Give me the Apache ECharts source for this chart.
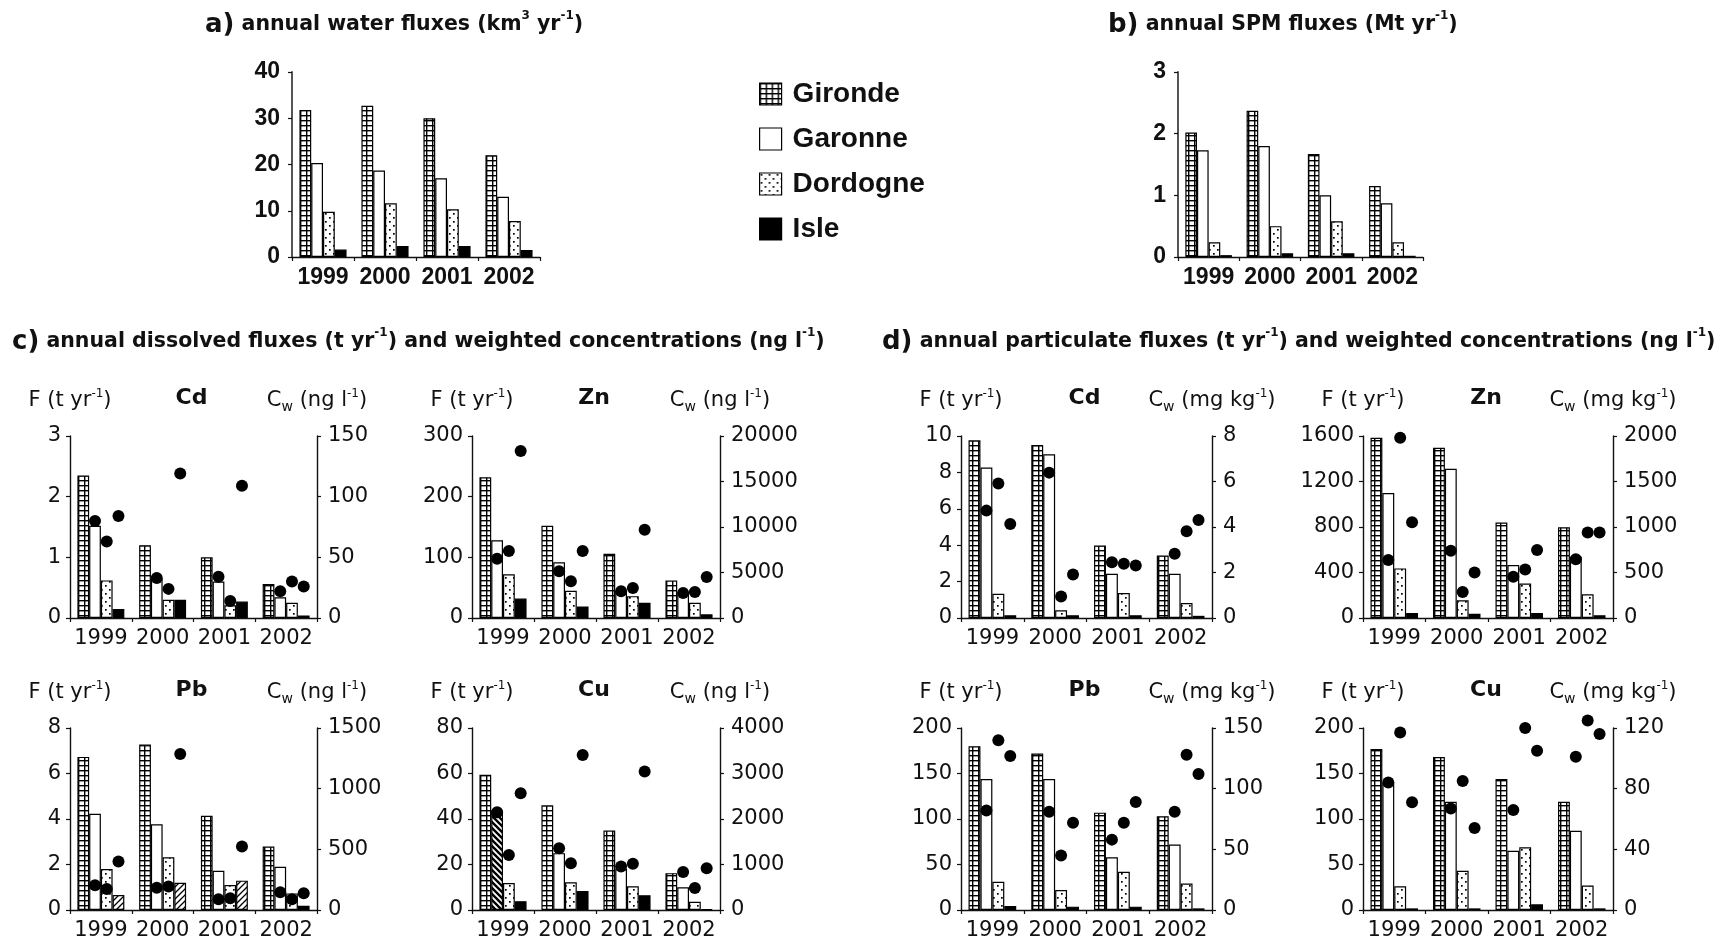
<!DOCTYPE html>
<html><head><meta charset="utf-8">
<script src="https://cdn.jsdelivr.net/npm/echarts@6/dist/echarts.min.js"></script>
<style>html,body{margin:0;padding:0;background:#fff}#c{width:1715px;height:945px}</style>
</head><body><div id="c"></div>
<script>
// ---------- DATA ----------
const years = ['1999', '2000', '2001', '2002'];
const rivers = ['Gironde', 'Garonne', 'Dordogne', 'Isle'];

// a) annual water fluxes (km3 yr-1)
const waterGironde = [31.8, 32.7, 30.0, 22.0];
const waterGaronne = [20.3, 18.7, 17.0, 13.0];
const waterDordogne = [9.8, 11.6, 10.3, 7.8];
const waterIsle = [1.6, 2.4, 2.4, 1.5];
const waterTicks = [0, 40, 10];

// b) annual SPM fluxes (Mt yr-1)
const spmGironde = [2.02, 2.37, 1.67, 1.15];
const spmGaronne = [1.73, 1.80, 1.00, 0.87];
const spmDordogne = [0.24, 0.50, 0.58, 0.24];
const spmIsle = [0.03, 0.06, 0.06, 0.02];
const spmTicks = [0, 3, 1];

// c) dissolved fluxes (t yr-1) and weighted concentrations (ng l-1)
const dCdFluxGironde = [2.35, 1.20, 1.00, 0.56];
const dCdFluxGaronne = [1.52, 0.65, 0.60, 0.34];
const dCdFluxDordogne = [0.62, 0.30, 0.21, 0.25];
const dCdFluxIsle = [0.15, 0.30, 0.27, 0.04];
const dCdConcGaronne = [80, 33, 34, 22];
const dCdConcDordogne = [63, 24, 14, 30];
const dCdConcIsle = [84, 119, 109, 26];
const dCdTicks = [0, 3, 1, 150, 50];

const dZnFluxGironde = [232, 152, 106, 62];
const dZnFluxGaronne = [128, 92, 45, 42];
const dZnFluxDordogne = [72, 45, 36, 25];
const dZnFluxIsle = [32, 19, 25, 6];
const dZnConcGaronne = [6500, 5150, 2950, 2750];
const dZnConcDordogne = [7350, 4050, 3300, 2850];
const dZnConcIsle = [18350, 7350, 9700, 4500];
const dZnTicks = [0, 300, 100, 20000, 5000];

const dPbFluxGironde = [6.73, 7.27, 4.14, 2.79];
const dPbFluxGaronne = [4.23, 3.77, 1.72, 1.90];
const dPbFluxDordogne = [1.80, 2.32, 1.10, 0.73];
const dPbFluxIsle = [0.66, 1.20, 1.29, 0.19];
const dPbConcGaronne = [204, 184, 88, 146];
const dPbConcDordogne = [173, 193, 96, 88];
const dPbConcIsle = [399, 1285, 523, 138];
const dPbTicks = [0, 8, 2, 1500, 500];

const dCuFluxGironde = [59.4, 46.0, 35.0, 16.2];
const dCuFluxGaronne = [43.8, 25.0, 18.0, 10.0];
const dCuFluxDordogne = [11.9, 12.2, 10.4, 3.6];
const dCuFluxIsle = [3.9, 8.3, 6.5, 0.3];
const dCuConcGaronne = [2150, 1355, 957, 833];
const dCuConcDordogne = [1210, 1029, 1014, 486];
const dCuConcIsle = [2565, 3406, 3043, 920];
const dCuTicks = [0, 80, 20, 4000, 1000];

// d) particulate fluxes (t yr-1) and weighted concentrations (mg kg-1)
const pCdFluxGironde = [9.76, 9.50, 3.98, 3.43];
const pCdFluxGaronne = [8.27, 9.00, 2.43, 2.43];
const pCdFluxDordogne = [1.33, 0.42, 1.37, 0.82];
const pCdFluxIsle = [0.15, 0.15, 0.15, 0.12];
const pCdConcGaronne = [4.72, 6.39, 2.45, 2.82];
const pCdConcDordogne = [5.91, 0.95, 2.38, 3.81];
const pCdConcIsle = [4.13, 1.91, 2.31, 4.31];
const pCdTicks = [0, 10, 2, 8, 2];

const pZnFluxGironde = [1585, 1497, 840, 798];
const pZnFluxGaronne = [1099, 1311, 466, 539];
const pZnFluxDordogne = [436, 156, 303, 209];
const pZnFluxIsle = [44, 38, 44, 24];
const pZnConcGaronne = [637, 740, 453, 645];
const pZnConcDordogne = [1982, 287, 534, 939];
const pZnConcIsle = [1053, 501, 748, 939];
const pZnTicks = [0, 1600, 400, 2000, 500];

const pPbFluxGironde = [180, 172, 107, 103];
const pPbFluxGaronne = [144, 144, 58, 72];
const pPbFluxDordogne = [31, 22, 42, 29];
const pPbFluxIsle = [4.4, 3.7, 3.7, 1.8];
const pPbConcGaronne = [82, 81, 58, 81];
const pPbConcDordogne = [140, 45, 72, 128];
const pPbConcIsle = [127, 72, 89, 112];
const pPbTicks = [0, 200, 50, 150, 50];

const pCuFluxGironde = [177, 168, 144, 119];
const pCuFluxGaronne = [140, 119, 65, 87];
const pCuFluxDordogne = [26, 43, 69, 27];
const pCuFluxIsle = [1.8, 1.8, 6.2, 1.8];
const pCuConcGaronne = [84, 67, 66, 101];
const pCuConcDordogne = [117, 85, 120, 125];
const pCuConcIsle = [71, 54, 105, 116];
const pCuTicks = [0, 200, 50, 120, 40];

// ---------- STYLE / PATTERNS ----------
function tile(w, h, draw) {
  const c = document.createElement('canvas');
  c.width = w; c.height = h;
  const g = c.getContext('2d');
  g.fillStyle = '#fff'; g.fillRect(0, 0, w, h);
  g.fillStyle = '#000'; g.strokeStyle = '#000';
  draw(g);
  return { image: c, repeat: 'repeat' };
}
const patGrid = tile(6, 5, g => { g.fillRect(0, 0, 6, 1.4); g.fillRect(0, 0, 1.4, 5); });
const patDots = tile(8, 8, g => { g.fillRect(1, 1, 1.7, 1.7); g.fillRect(5, 5, 1.7, 1.7); });
const patHatch = tile(6, 6, g => { g.lineWidth = 1.3; g.beginPath(); g.moveTo(0, 6); g.lineTo(6, 0); g.moveTo(-1, 1); g.lineTo(1, -1); g.moveTo(5, 7); g.lineTo(7, 5); g.stroke(); });
const patBack = tile(6, 6, g => { g.lineWidth = 2.4; g.beginPath(); g.moveTo(0, 0); g.lineTo(6, 6); g.moveTo(-1, 5); g.lineTo(1, 7); g.moveTo(5, -1); g.lineTo(7, 1); g.stroke(); });
const riverFill = [patGrid, '#fff', patDots, '#000'];

const INK = '#111';
const SANS = 'Liberation Sans';
const DJ = 'DejaVu Sans';

// ---------- PANELS ----------
const panels = [
  { box: [292, 72, 248, 185], top: true, flux: [waterGironde, waterGaronne, waterDordogne, waterIsle], ticks: waterTicks },
  { box: [1178, 72, 245, 185], top: true, flux: [spmGironde, spmGaronne, spmDordogne, spmIsle], ticks: spmTicks },
  { box: [70, 436, 247, 182], metal: 'Cd', unit: 'ng l', flux: [dCdFluxGironde, dCdFluxGaronne, dCdFluxDordogne, dCdFluxIsle], conc: [dCdConcGaronne, dCdConcDordogne, dCdConcIsle], ticks: dCdTicks },
  { box: [472, 436, 248, 182], metal: 'Zn', unit: 'ng l', flux: [dZnFluxGironde, dZnFluxGaronne, dZnFluxDordogne, dZnFluxIsle], conc: [dZnConcGaronne, dZnConcDordogne, dZnConcIsle], ticks: dZnTicks },
  { box: [70, 728, 247, 182], metal: 'Pb', unit: 'ng l', flux: [dPbFluxGironde, dPbFluxGaronne, dPbFluxDordogne, dPbFluxIsle], conc: [dPbConcGaronne, dPbConcDordogne, dPbConcIsle], ticks: dPbTicks, special: { 3: { 0: patHatch, 1: patHatch, 2: patHatch } } },
  { box: [472, 728, 248, 182], metal: 'Cu', unit: 'ng l', flux: [dCuFluxGironde, dCuFluxGaronne, dCuFluxDordogne, dCuFluxIsle], conc: [dCuConcGaronne, dCuConcDordogne, dCuConcIsle], ticks: dCuTicks, special: { 1: { 0: patBack } } },
  { box: [961, 436, 251, 182], metal: 'Cd', unit: 'mg kg', flux: [pCdFluxGironde, pCdFluxGaronne, pCdFluxDordogne, pCdFluxIsle], conc: [pCdConcGaronne, pCdConcDordogne, pCdConcIsle], ticks: pCdTicks },
  { box: [1363, 436, 250, 182], metal: 'Zn', unit: 'mg kg', flux: [pZnFluxGironde, pZnFluxGaronne, pZnFluxDordogne, pZnFluxIsle], conc: [pZnConcGaronne, pZnConcDordogne, pZnConcIsle], ticks: pZnTicks },
  { box: [961, 728, 251, 182], metal: 'Pb', unit: 'mg kg', flux: [pPbFluxGironde, pPbFluxGaronne, pPbFluxDordogne, pPbFluxIsle], conc: [pPbConcGaronne, pPbConcDordogne, pPbConcIsle], ticks: pPbTicks },
  { box: [1363, 728, 250, 182], metal: 'Cu', unit: 'mg kg', flux: [pCuFluxGironde, pCuFluxGaronne, pCuFluxDordogne, pCuFluxIsle], conc: [pCuConcGaronne, pCuConcDordogne, pCuConcIsle], ticks: pCuTicks }
];

const grid = [], xAxis = [], yAxis = [], series = [], graphic = [];
const BAR_GAP = '0%', CAT_GAP = '24%';

panels.forEach((p, gi) => {
  const [l, t, w, h] = p.box;
  grid.push({ left: l, top: t, width: w, height: h, containLabel: false });
  const lblFont = p.top
    ? { fontFamily: SANS, fontWeight: 'bold', fontSize: 23, color: INK }
    : { fontFamily: DJ, fontSize: 21, color: INK };
  xAxis.push({
    gridIndex: gi, type: 'category', data: years,
    axisLine: { onZero: false, lineStyle: { color: INK, width: 1.4 } },
    axisTick: { show: true, length: 4, lineStyle: { color: INK, width: 1.2 } },
    axisLabel: Object.assign({ interval: 0, margin: p.top ? 9 : 10 }, lblFont),
    splitLine: { show: false }
  });
  const leftIdx = yAxis.length;
  yAxis.push({
    gridIndex: gi, type: 'value', position: 'left',
    min: p.ticks[0], max: p.ticks[1], interval: p.ticks[2],
    axisLine: { show: true, lineStyle: { color: p.top ? '#555' : INK, width: p.top ? 2 : 1.4 } },
    axisTick: { show: true, length: 4, lineStyle: { color: INK, width: 1.2 } },
    axisLabel: Object.assign({ margin: p.top ? 12 : 9, formatter: v => String(v) }, lblFont),
    splitLine: { show: false }
  });
  let rightIdx = null;
  if (!p.top) {
    rightIdx = yAxis.length;
    yAxis.push({
      gridIndex: gi, type: 'value', position: 'right',
      min: p.ticks[0], max: p.ticks[3], interval: p.ticks[4],
      axisLine: { show: true, lineStyle: { color: INK, width: 1.4 } },
      axisTick: { show: true, length: 4, lineStyle: { color: INK, width: 1.2 } },
      axisLabel: Object.assign({ margin: 11, formatter: v => String(v) }, lblFont),
      splitLine: { show: false }
    });
  }
  rivers.forEach((r, ri) => {
    const sp = (p.special && p.special[ri]) || {};
    series.push({
      type: 'bar', name: r, xAxisIndex: gi, yAxisIndex: leftIdx,
      data: p.flux[ri].map((v, k) => sp[k] ? { value: v, itemStyle: { color: sp[k] } } : v),
      itemStyle: { color: riverFill[ri], borderColor: '#000', borderWidth: 1.2 },
      barGap: BAR_GAP, barCategoryGap: CAT_GAP, z: 2,
      emphasis: { disabled: true }
    });
  });
  if (!p.top) {
    // dots sit over the Garonne, Dordogne and Isle bar slots: pictorialBar slots mirror the bar layout
    const slotData = [null, p.conc[0], p.conc[1], p.conc[2]];
    slotData.forEach((arr, si) => {
      series.push({
        type: 'pictorialBar', name: 'Cw ' + si, xAxisIndex: gi, yAxisIndex: rightIdx,
        data: arr ? arr.slice() : [],
        symbol: 'circle', symbolSize: [12, 12], symbolPosition: 'end', symbolOffset: [0, '-50%'],
        symbolRepeat: false,
        itemStyle: { color: '#000' },
        barGap: BAR_GAP, barCategoryGap: CAT_GAP, z: 5,
        emphasis: { disabled: true }
      });
    });
    const n = { fontFamily: DJ, fontSize: 21, fill: INK, lineHeight: 26 };
    const sup = { fontFamily: DJ, fontSize: 12, fill: INK, lineHeight: 14, verticalAlign: 'top' };
    const sub = { fontFamily: DJ, fontSize: 14, fill: INK, lineHeight: 14, verticalAlign: 'bottom' };
    const yHdr = t - 35;
    graphic.push({ type: 'text', x: l, y: yHdr, style: { text: '{n|F (t yr}{sup|-1}{n|)}', rich: { n, sup }, align: 'center', verticalAlign: 'middle' } });
    graphic.push({ type: 'text', x: l + w / 2 - 2, y: yHdr - 3, style: { text: p.metal, fontFamily: DJ, fontWeight: 'bold', fontSize: 22, fill: INK, align: 'center', verticalAlign: 'middle' } });
    graphic.push({ type: 'text', x: l + w, y: yHdr, style: { text: '{n|C}{sub|w}{n| (' + p.unit + '}{sup|-1}{n|)}', rich: { n, sup, sub }, align: 'center', verticalAlign: 'middle' } });
  }
});

// section titles
const tBig = { fontFamily: DJ, fontWeight: 'bold', fontSize: 26, fill: INK, lineHeight: 30 };
const tTxt = { fontFamily: DJ, fontWeight: 'bold', fontSize: 20.5, fill: INK, lineHeight: 30 };
const tSup = { fontFamily: DJ, fontWeight: 'bold', fontSize: 12, fill: INK, lineHeight: 17, verticalAlign: 'top' };
const tRich = { big: tBig, t: tTxt, sup: tSup };
const titles = [
  [205, 25, '{big|a)}{t| annual water fluxes (km}{sup|3}{t| yr}{sup|-1}{t|)}'],
  [1108, 25, '{big|b)}{t| annual SPM fluxes (Mt yr}{sup|-1}{t|)}'],
  [12, 342, '{big|c)}{t| annual dissolved fluxes (t yr}{sup|-1}{t|) and weighted concentrations (ng l}{sup|-1}{t|)}'],
  [882, 342, '{big|d)}{t| annual particulate fluxes (t yr}{sup|-1}{t|) and weighted concentrations (ng l}{sup|-1}{t|)}']
];
titles.forEach(([x, y, txt]) => graphic.push({ type: 'text', x, y, style: { text: txt, rich: tRich, align: 'left', verticalAlign: 'middle' } }));

const chart = echarts.init(document.getElementById('c'), null, { renderer: 'canvas' });
chart.setOption({
  backgroundColor: '#fff',
  animation: false,
  legend: {
    orient: 'vertical', left: 754, top: 75, itemWidth: 22, itemHeight: 22, itemGap: 17,
    icon: 'rect', data: rivers, selectedMode: false,
    itemStyle: { borderColor: '#000', borderWidth: 1.2 },
    textStyle: { fontFamily: SANS, fontWeight: 'bold', fontSize: 28, color: INK, lineHeight: 22, padding: [0, 0, 0, 6] }
  },
  grid, xAxis, yAxis, series, graphic
});
</script>
</body></html>
